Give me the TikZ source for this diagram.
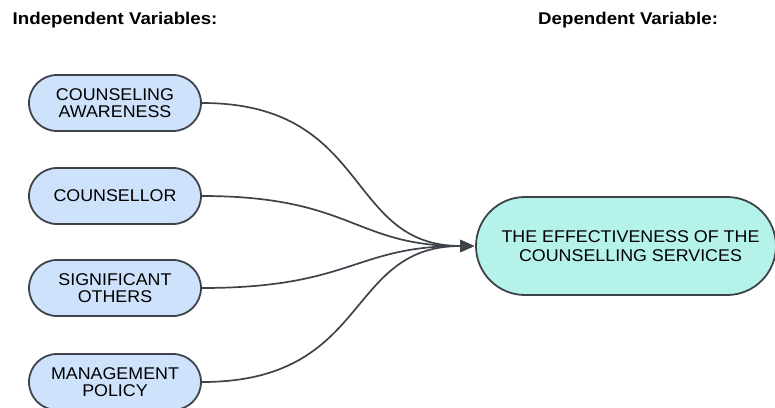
\documentclass[tikz,border=0pt]{standalone}
\usepackage{fontspec}
\setmainfont{Liberation Sans}
\newfontfamily\nodefont{Liberation Sans}[FakeStretch=1.05]
\newfontfamily\headfont{Liberation Sans Bold}[FakeStretch=1.1]
\usetikzlibrary{shapes.misc,arrows.meta}
\definecolor{strokegray}{HTML}{3E434B}
\definecolor{ivfill}{HTML}{CFE2FB}
\definecolor{dvfill}{HTML}{B4F2EA}
\tikzset{
  ivbox/.style={rounded rectangle, draw=strokegray, line width=1.8pt, fill=ivfill,
    minimum width=172pt, minimum height=56pt, inner sep=0pt, align=center,
    font=\nodefont\fontsize{17}{17.5}\selectfont},
  dvbox/.style={rounded rectangle, draw=strokegray, line width=1.8pt, fill=dvfill,
    minimum width=300pt, minimum height=98pt, inner sep=0pt, align=center,
    font=\nodefont\fontsize{17}{19}\selectfont},
  header/.style={anchor=base west, inner sep=0pt, font=\headfont\fontsize{17}{20}\selectfont},
  link/.style={draw=strokegray, line width=1.7pt, -{Triangle[length=14pt,width=12pt]}}
}
\begin{document}
\begin{tikzpicture}[x=1pt,y=-1pt]
\useasboundingbox (0,0) rectangle (775,407);
\node[header] (hiv) at (12.5,24.5) {Independent Variables:};
\node[header] (hdv) at (538,24.5) {Dependent Variable:};
\node[ivbox] (a) at (115,103) {COUNSELING\\AWARENESS};
\node[ivbox] (b) at (115,196) {COUNSELLOR};
\node[ivbox] (c) at (115,288) {SIGNIFICANT\\OTHERS};
\node[ivbox] (d) at (115,382) {MANAGEMENT\\POLICY};
\node[dvbox] (t) at (626,246) {\hspace*{9pt}THE EFFECTIVENESS OF THE\\\hspace*{9pt}COUNSELLING SERVICES};
\coordinate (tip) at ([xshift=-1pt]t.west);
\draw[link] (a.east) .. controls +(170,0) and +(-130,0) .. (tip);
\draw[link] (b.east) .. controls +(150,0) and +(-120,0) .. (tip);
\draw[link] (c.east) .. controls +(150,0) and +(-120,0) .. (tip);
\draw[link] (d.east) .. controls +(170,0) and +(-130,0) .. (tip);
\end{tikzpicture}
\end{document}
